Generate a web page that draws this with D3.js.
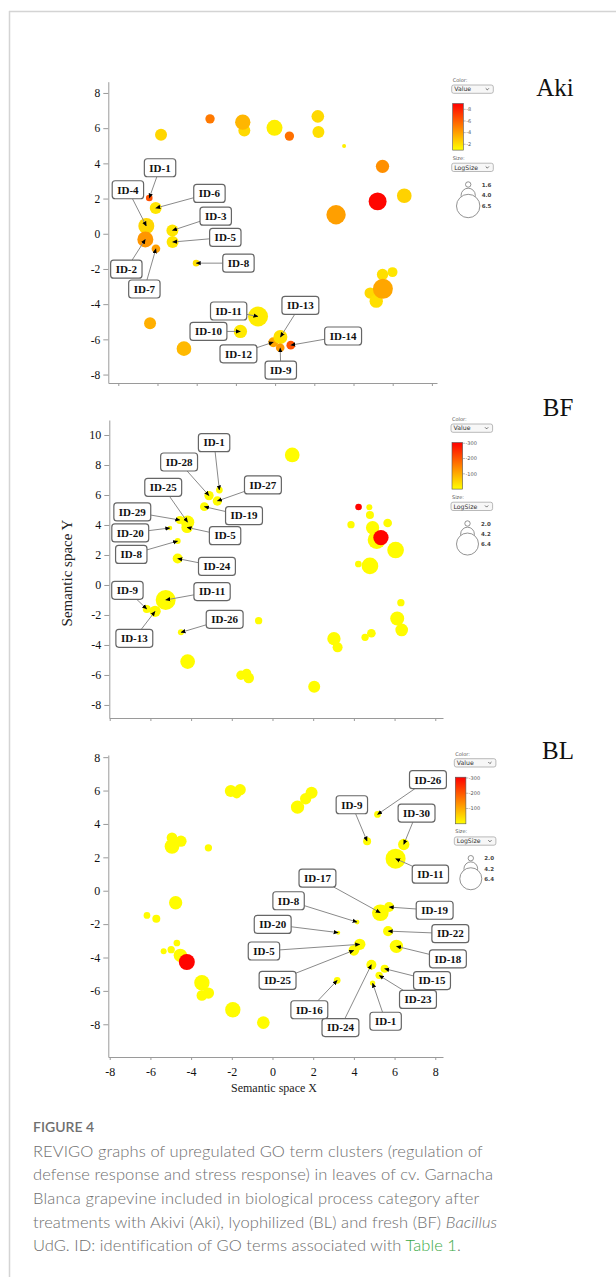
<!DOCTYPE html>
<html>
<head>
<meta charset="utf-8">
<script src="https://cdn.jsdelivr.net/npm/d3@7"></script>
<style>
  html, body { margin: 0; padding: 0; background: #fff; }
  svg { display: block; }
</style>
</head>
<body>
<svg id="fig" width="616" height="1277"></svg>
<script>
// ---------- Aki panel (semantic space coords, log10 p-value, LogSize) ----------
const akiId = ["","","","","","","","","","","","","","","","","","","","",
  "ID-1","ID-6","ID-4","ID-2","ID-7","ID-3","ID-5","ID-8","ID-11","ID-10","ID-12","ID-13","ID-9","ID-14"];
const akiX = [-5.82,-3.32,-1.57,-1.65,-0.03,0.73,2.18,2.21,3.52,5.48,5.23,6.59,3.11,5.48,5.99,4.85,5.16,5.50,-6.38,-4.65,
  -6.42,-6.09,-6.57,-6.62,-6.08,-5.24,-5.23,-4.03,-0.87,-1.77,-0.09,0.27,0.26,0.80];
const akiY = [5.63,6.53,5.87,6.34,6.02,5.55,6.67,5.78,4.98,3.83,1.84,2.16,1.08,-2.31,-2.18,-3.37,-3.83,-3.13,-5.08,-6.53,
  2.03,1.46,0.44,-0.32,-0.85,0.19,-0.47,-1.67,-4.70,-5.55,-6.16,-5.87,-6.48,-6.33];
const akiValue = [-2.3,-5.2,-2.2,-3.3,-1.5,-5.5,-2.2,-2.0,-1.5,-4.5,-8.8,-2.4,-4.0,-2.0,-1.8,-2.2,-2.0,-3.8,-3.5,-3.2,
  -6.5,-1.8,-2.3,-4.3,-4.0,-1.8,-1.8,-2.0,-1.6,-1.7,-3.8,-1.9,-4.2,-6.5];
const akiLogSize = [3.39,2.67,3.39,4.30,4.48,2.67,3.57,3.39,1.22,3.76,5.02,4.12,5.39,3.21,2.85,3.21,3.76,5.57,3.39,4.12,
  1.94,3.39,4.48,4.48,2.49,3.39,3.39,1.94,5.57,3.76,2.85,3.94,2.49,2.49];
const akiTagId = ["ID-1","ID-4","ID-6","ID-3","ID-5","ID-8","ID-2","ID-7","ID-11","ID-10","ID-13","ID-12","ID-14","ID-9"];
const akiTagX = [-5.87,-7.51,-3.35,-3.03,-2.54,-1.87,-7.59,-6.67,-2.37,-3.40,1.29,-1.87,3.47,0.29];
const akiTagY = [3.75,2.50,2.29,1.00,-0.21,-1.67,-2.01,-3.14,-4.39,-5.55,-4.07,-6.82,-5.81,-7.75];
const akiColorTicks = [-8,-6,-4,-2];
const akiSizeTicks = [1.6,4.0,6.5];

// ---------- BF panel ----------
const bfId = ["","","","","","","","","","","","","","","","","","","","","","","","","",
  "ID-1","ID-28","ID-27","ID-19","ID-29","ID-25","ID-5","ID-20","ID-8","ID-24","ID-11","ID-9","ID-13","ID-26"];
const bfX = [0.97,4.23,4.76,4.79,3.86,5.66,4.92,5.12,5.33,6.05,4.22,4.79,6.31,6.13,6.35,4.86,4.55,3.02,3.20,-0.68,
  -4.17,-1.55,-1.27,-1.17,2.05,
  -2.61,-3.12,-2.71,-3.35,-4.55,-4.17,-4.20,-5.04,-4.66,-4.66,-5.25,-6.18,-5.77,-4.50];
const bfY = [8.67,5.20,5.18,4.67,4.02,4.13,3.82,3.00,3.16,2.33,1.40,1.27,-1.18,-2.24,-3.00,-3.22,-3.49,-3.58,-4.16,-2.38,
  -5.11,-6.02,-5.89,-6.20,-6.78,
  6.33,5.96,5.60,5.22,4.33,4.18,3.84,3.80,2.93,1.76,-1.00,-1.60,-1.76,-3.16];
const bfValue = [-4,-300,-4,-4,-4,-4,-4,-4,-300,-4,-4,-4,-4,-4,-4,-4,-4,-4,-4,-4,-4,-4,-4,-4,-4,
  -4,-4,-4,-4,-4,-4,-4,-4,-4,-4,-4,-4,-4,-4];
const bfLogSize = [4.46,2.34,2.16,2.69,2.51,2.87,4.10,5.34,4.63,4.99,2.34,4.99,2.51,4.28,3.93,2.87,2.51,4.10,3.22,2.51,
  4.46,3.04,3.04,3.40,3.75,
  2.34,3.04,3.04,2.87,2.69,4.10,3.57,1.81,2.16,3.22,5.87,2.69,3.57,2.16];
const bfTagId = ["ID-1","ID-28","ID-27","ID-25","ID-19","ID-29","ID-20","ID-5","ID-8","ID-24","ID-9","ID-11","ID-26","ID-13"];
const bfTagX = [-2.87,-4.59,-0.47,-5.37,-1.40,-6.89,-6.99,-2.33,-6.94,-2.73,-7.13,-2.97,-2.35,-6.79];
const bfTagY = [9.49,8.20,6.67,6.51,4.62,4.87,3.47,3.29,2.04,1.24,-0.36,-0.44,-2.29,-3.56];

// ---------- BL panel ----------
const blId = ["","","","","","","","","","","","","","","","","","","","","","","",
  "ID-26","ID-9","ID-30","ID-11","ID-19","ID-17","ID-8","ID-20","ID-22","ID-25","ID-5","ID-18","ID-24","ID-15","ID-23","ID-1","ID-16"];
const blX = [-2.05,-1.76,-1.59,1.92,1.63,1.23,-4.94,-4.50,-4.94,-3.15,-4.76,-6.17,-5.71,-4.70,-4.98,-5.35,-4.53,-4.21,-3.47,-3.47,
  -3.15,-1.95,-0.45,
  5.16,4.65,6.45,6.05,5.73,5.30,4.16,3.23,5.68,4.00,4.29,6.09,4.86,5.51,5.24,4.92,3.18];
const blY = [5.97,5.81,6.05,5.87,5.51,5.01,3.17,2.97,2.65,2.57,-0.72,-1.48,-1.68,-3.13,-3.53,-3.63,-3.87,-4.27,-5.51,-6.27,
  -6.13,-7.13,-7.90,
  4.57,2.97,2.77,1.92,-0.98,-1.32,-1.88,-2.51,-2.42,-3.57,-3.21,-3.33,-4.43,-4.67,-5.07,-5.53,-5.37];
const blValue = [-4,-4,-4,-4,-4,-4,-4,-4,-4,-4,-4,-4,-4,-4,-4,-4,-4,-300,-4,-4,-4,-4,-4,
  -4,-4,-4,-4,-4,-4,-4,-4,-4,-4,-4,-4,-4,-4,-4,-4,-4];
const blLogSize = [3.75,3.04,3.57,3.75,3.57,4.10,3.40,3.57,4.46,2.51,4.10,2.34,2.69,2.34,2.51,2.16,4.10,4.81,4.63,3.40,
  3.57,4.63,3.93,
  2.34,2.69,3.57,5.87,3.22,4.99,1.81,1.63,3.22,3.40,3.57,4.10,3.22,2.69,2.51,1.98,2.34];
const blTagId = ["ID-26","ID-9","ID-30","ID-11","ID-17","ID-8","ID-19","ID-20","ID-22","ID-5","ID-18","ID-25","ID-15","ID-23","ID-16","ID-24","ID-1"];
const blTagX = [7.64,3.90,7.08,7.76,2.21,0.79,7.97,0.01,8.74,-0.42,8.62,0.25,7.84,7.15,1.81,3.34,5.56];
const blTagY = [6.65,5.15,4.65,0.99,0.76,-0.60,-1.17,-2.02,-2.57,-3.61,-4.08,-5.37,-5.38,-6.51,-7.13,-8.20,-7.82];
const fbColorTicks = [-300,-200,-100];
const fbSizeTicks = [2.0,4.2,6.4];

const axisTicks = [-8,-6,-4,-2,0,2,4,6,8];
const bfYTicks = [-8,-6,-4,-2,0,2,4,6,8,10];

const captionLines = [
  [["REVIGO graphs of upregulated GO term clusters (regulation of", ""]],
  [["defense response and stress response) in leaves of cv. Garnacha", ""]],
  [["Blanca grapevine included in biological process category after", ""]],
  [["treatments with Akivi (Aki), lyophilized (BL) and fresh (BF) ", ""], ["Bacillus", "i"]],
  [["UdG. ID: identification of GO terms associated with ", ""], ["Table 1", "g"], [".", ""]]
];
const captionWidths = [450, 460, 446, 464, 428];

const svg = d3.select("#fig");
const serif = "'Liberation Serif', 'Times New Roman', serif";

// frame
svg.append("line").attr("x1", 9).attr("y1", 11.5).attr("x2", 616).attr("y2", 11.5)
  .attr("stroke", "#d4d4d4").attr("stroke-width", 1.5);
svg.append("line").attr("x1", 9.5).attr("y1", 11).attr("x2", 9.5).attr("y2", 1277)
  .attr("stroke", "#d4d4d4").attr("stroke-width", 1.5);

const defs = svg.append("defs");
defs.append("marker").attr("id", "arr")
  .attr("viewBox", "0 -3 6 6").attr("refX", 5.5).attr("refY", 0)
  .attr("markerWidth", 5).attr("markerHeight", 5)
  .attr("markerUnits", "userSpaceOnUse").attr("orient", "auto")
  .append("path").attr("d", "M0,-2.6L6,0L0,2.6Z").attr("fill", "#000");

function drawPanel(c) {
  const g = svg.append("g");
  const x = d3.scaleLinear().domain(c.xDom).range(c.xRange);
  const y = d3.scaleLinear().domain(c.yDom).range(c.yRange);
  const color = d3.scaleLinear().domain(c.colDom).range(["#ffff00", "#ff0000"]);
  const size = d3.scaleLinear().domain(c.sizeDom).range(c.sizeRange);

  // axes
  const ya = g.append("g").attr("transform", `translate(${c.xRange[0]},0)`)
    .call(d3.axisLeft(y).tickValues(c.yTicks).tickSize(5).tickSizeOuter(0).tickPadding(3).tickFormat(d => d));
  const xa = g.append("g").attr("transform", `translate(0,${c.yRange[0]})`)
    .call(d3.axisBottom(x).tickValues(axisTicks).tickSize(3).tickSizeOuter(0).tickPadding(7)
      .tickFormat(c.xLabels ? (d => d) : ""));
  [ya, xa].forEach(a => {
    a.select(".domain").attr("stroke", "#9a9a9a");
    a.selectAll(".tick line").attr("stroke", "#9a9a9a");
    a.selectAll(".tick text").attr("fill", "#111").style("font-family", serif).style("font-size", c.tickFont + "px");
  });

  // bubbles
  const pts = c.px.map((v, i) => ({ x: v, y: c.py[i], v: c.pv[i], s: c.ps[i], id: c.pid[i] }));
  g.selectAll("circle.pt").data(pts).join("circle")
    .attr("class", "pt")
    .attr("cx", d => x(d.x)).attr("cy", d => y(d.y))
    .attr("r", d => size(d.s))
    .attr("fill", d => color(d.v));

  // labels with arrows
  const tags = c.tid.map((id, i) => ({ id, tx: x(c.tx[i]), ty: y(c.ty[i]), p: pts.find(p => p.id === id) }));
  const arrows = g.append("g");
  const boxes = g.append("g");
  tags.forEach(t => {
    const bg = boxes.append("g");
    const txt = bg.append("text").attr("x", t.tx).attr("y", t.ty + 3.8)
      .attr("text-anchor", "middle").style("font-family", serif)
      .style("font-weight", "bold").style("font-size", "11px").attr("fill", "#111").text(t.id);
    const w = txt.node().getComputedTextLength() + 10, h = 18;
    bg.insert("rect", "text").attr("x", t.tx - w / 2).attr("y", t.ty - h / 2)
      .attr("width", w).attr("height", h).attr("rx", 3)
      .attr("fill", "#fff").attr("stroke", "#666").attr("stroke-width", 1.2);
    const px = x(t.p.x), py = y(t.p.y);
    const dx = px - t.tx, dy = py - t.ty;
    const k = Math.min(Math.abs(dx) > 0 ? (w / 2) / Math.abs(dx) : Infinity,
                       Math.abs(dy) > 0 ? (h / 2) / Math.abs(dy) : Infinity);
    arrows.append("line")
      .attr("x1", t.tx + dx * k).attr("y1", t.ty + dy * k)
      .attr("x2", px).attr("y2", py)
      .attr("stroke", "#8a8a8a").attr("stroke-width", 1)
      .attr("marker-end", "url(#arr)");
  });

  // legend
  const lx = c.lx, ly = c.ly;
  const L = svg.append("g");
  const tiny = "'DejaVu Sans', Arial, sans-serif";
  function selectBox(yy, label) {
    L.append("rect").attr("x", lx).attr("y", yy).attr("width", 41.6).attr("height", 8.3).attr("rx", 2)
      .attr("fill", "#f7f7f7").attr("stroke", "#9c9c9c").attr("stroke-width", 0.7);
    L.append("text").attr("x", lx + 2.5).attr("y", yy + 6.4).text(label)
      .style("font-family", tiny).style("font-size", "6.2px").attr("fill", "#333");
    L.append("path").attr("d", `M${lx + 34},${yy + 3.3}l1.6,1.6l1.6,-1.6`)
      .attr("fill", "none").attr("stroke", "#333").attr("stroke-width", 0.7);
  }
  L.append("text").attr("x", lx + 1).attr("y", ly).text("Color:")
    .style("font-family", tiny).style("font-size", "5px").attr("fill", "#555");
  selectBox(ly + 3, "Value");
  const gid = "grad" + c.name;
  const grad = defs.append("linearGradient").attr("id", gid).attr("x1", 0).attr("y1", 1).attr("x2", 0).attr("y2", 0);
  grad.append("stop").attr("offset", 0).attr("stop-color", color(c.colDom[0]));
  grad.append("stop").attr("offset", 1).attr("stop-color", color(c.colDom[1]));
  const barTop = ly + 21.5, barH = 46.6;
  const by = d3.scaleLinear().domain([c.colDom[1], c.colDom[0]]).range([barTop, barTop + barH]);
  L.append("rect").attr("x", lx + 1).attr("y", barTop).attr("width", 10.6).attr("height", barH)
    .attr("fill", `url(#${gid})`).attr("stroke", "#555").attr("stroke-width", 0.6);
  c.colTicks.forEach(t => {
    L.append("line").attr("x1", lx + 11.6).attr("x2", lx + 14).attr("y1", by(t)).attr("y2", by(t))
      .attr("stroke", "#777").attr("stroke-width", 0.5);
    L.append("text").attr("x", lx + 14.5).attr("y", by(t) + 1.8).text(t)
      .style("font-family", tiny).style("font-size", "5px").attr("fill", "#555");
  });
  L.append("text").attr("x", lx + 1).attr("y", ly + 77.5).text("Size:")
    .style("font-family", tiny).style("font-size", "5px").attr("fill", "#555");
  selectBox(ly + 81.2, "LogSize");
  const cx = lx + 16.5;
  const rs = size(c.sizeTicks[0]), rm = size(c.sizeTicks[1]), rb = size(c.sizeTicks[2]);
  const cs = ly + 102.5, cm = cs + rs + 1 + rm, cb = cm + rb - 1;
  [[cm, rm], [cb, rb], [cs, rs]].forEach(([cy, r]) => {
    L.append("circle").attr("cx", cx).attr("cy", cy).attr("r", r)
      .attr("fill", "#fff").attr("stroke", "#777").attr("stroke-width", 0.8);
  });
  [cs, cm, cb].forEach((cy, i) => {
    L.append("text").attr("x", lx + 30).attr("y", cy + 2).text(c.sizeTicks[i].toFixed(1))
      .style("font-family", tiny).style("font-size", "5.5px").style("font-weight", "bold").attr("fill", "#444");
  });

  // title
  svg.append("text").attr("x", c.titleX).attr("y", c.titleY).attr("text-anchor", "middle")
    .style("font-family", serif).style("font-size", "25px").attr("fill", "#111").text(c.name);
  return { x, y };
}

drawPanel({
  name: "Aki", xDom: [-8.51, 8.26], xRange: [108.3, 437], yDom: [-8.48, 8.64], yRange: [383, 81.7],
  yTicks: axisTicks, xLabels: false, tickFont: 11.5,
  colDom: [-1, -9], sizeDom: [1.6, 6.5], sizeRange: [2.7, 11.7],
  px: akiX, py: akiY, pv: akiValue, ps: akiLogSize, pid: akiId,
  tid: akiTagId, tx: akiTagX, ty: akiTagY,
  colTicks: akiColorTicks, sizeTicks: akiSizeTicks, lx: 451.7, ly: 82, titleX: 555, titleY: 96
});

drawPanel({
  name: "BF", xDom: [-8.02, 8.38], xRange: [109.3, 443], yDom: [-8.87, 11.0], yRange: [718, 420],
  yTicks: bfYTicks, xLabels: false, tickFont: 12,
  colDom: [0, -305], sizeDom: [2.0, 6.4], sizeRange: [2.7, 11],
  px: bfX, py: bfY, pv: bfValue, ps: bfLogSize, pid: bfId,
  tid: bfTagId, tx: bfTagX, ty: bfTagY,
  colTicks: fbColorTicks, sizeTicks: fbSizeTicks, lx: 451, ly: 421, titleX: 558, titleY: 416
});

drawPanel({
  name: "BL", xDom: [-8.07, 8.38], xRange: [108.3, 443], yDom: [-9.96, 8.13], yRange: [1057, 755],
  yTicks: axisTicks, xLabels: true, tickFont: 12,
  colDom: [0, -305], sizeDom: [2.0, 6.4], sizeRange: [2.7, 11],
  px: blX, py: blY, pv: blValue, ps: blLogSize, pid: blId,
  tid: blTagId, tx: blTagX, ty: blTagY,
  colTicks: fbColorTicks, sizeTicks: fbSizeTicks, lx: 454.3, ly: 755.7, titleX: 558, titleY: 759
});

// axis titles
svg.append("text").attr("transform", "translate(72,573) rotate(-90)").attr("text-anchor", "middle")
  .style("font-family", serif).style("font-size", "15px").attr("fill", "#222").text("Semantic space Y");
svg.append("text").attr("x", 274).attr("y", 1092).attr("text-anchor", "middle")
  .style("font-family", serif).style("font-size", "12px").attr("fill", "#222").text("Semantic space X");

// caption
const sans = "Lato, 'Open Sans', sans-serif";
svg.append("text").attr("x", 33).attr("y", 1131.7).text("FIGURE 4")
  .style("font-family", sans).style("font-size", "14px").style("font-weight", "600").attr("fill", "#707070");
captionLines.forEach((parts, i) => {
  const t = svg.append("text").attr("x", 33).attr("y", 1156.7 + i * 23.6)
    .style("font-family", sans).style("font-size", "16.5px").style("font-weight", "300").attr("fill", "#6e6e6e");
  parts.forEach(([s, k]) => {
    const ts = t.append("tspan").text(s);
    if (k === "i") ts.style("font-style", "italic");
    if (k === "g") ts.attr("fill", "#39a845");
  });
  const n = parts.map(p => p[0]).join("").length;
  const wNat = t.node().getComputedTextLength();
  t.style("letter-spacing", ((captionWidths[i] - wNat) / (n - 1)) + "px");
});
</script>
</body>
</html>
